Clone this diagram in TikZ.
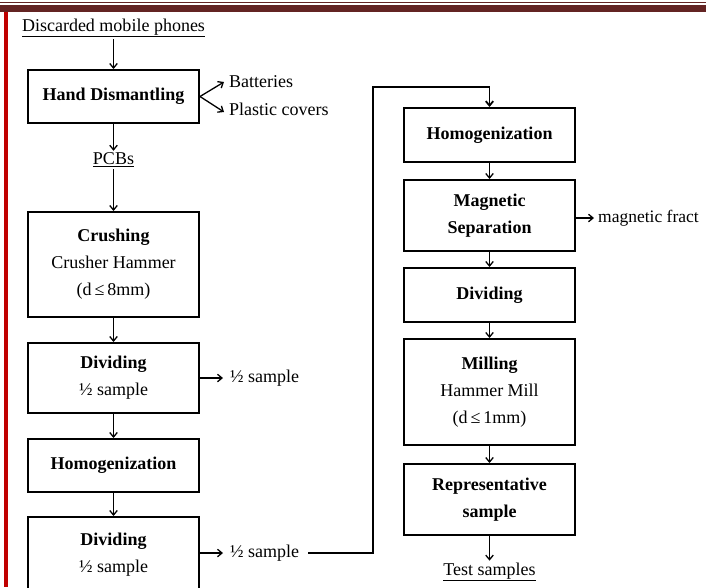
\documentclass[tikz,border=0pt]{standalone}
\usepackage{fontspec}
\setmainfont{Liberation Serif}
\usetikzlibrary{arrows.meta}
\definecolor{hdr}{HTML}{632423}
\definecolor{redl}{HTML}{C00000}
\begin{document}
\begin{tikzpicture}[x=1pt,y=-1pt,
  box/.style={draw, line width=2pt, minimum width=171pt, inner sep=0pt, align=center, font=\fontsize{18}{27}\selectfont},
  txt/.style={inner sep=2pt, font=\fontsize{18}{27}\selectfont},
  side/.style={txt, anchor=west, inner xsep=7pt},
  arr/.style={line width=1.3pt, -{Straight Barb[length=4.5pt,width=7.5pt]}},
  longconn/.style={line width=1.8pt, -{Straight Barb[length=4.5pt,width=7.5pt]}},
]
\useasboundingbox (0,0) rectangle (706,587);
\clip (0,0) rectangle (706,587);
\fill[white] (0,0) rectangle (706,587);
\fill[hdr] (0,1.5) rectangle (706,3);
\fill[hdr] (0,5) rectangle (706,11.5);
\fill[redl] (3.5,11.5) rectangle (7.5,587);

% left column
\node[txt] (disc) at (113.5,28) {\underline{Discarded mobile phones}};
\node[box, minimum height=53pt] (hand) at (113.5,96.5) {\textbf{Hand Dismantling}};
\node[side, inner xsep=5pt] (bat) at (224,82) {Batteries};
\node[side, inner xsep=5pt] (plc) at (224,109) {Plastic covers};
\node[txt] (pcb) at (113.5,160) {\underline{PCBs}};
\node[box, minimum height=105pt] (crush) at (113.5,264.5) {\textbf{Crushing}\\Crusher Hammer\\(d\,≤\,8mm)};
\node[box, minimum height=70pt] (div1) at (113.5,378) {\textbf{Dividing}\\½ sample};
\node[side] (h1) at (223,378) {½ sample};
\node[box, minimum height=53pt] (homo1) at (113.5,465.5) {\textbf{Homogenization}};
\node[box, minimum height=76pt] (div2) at (113.5,555) {\textbf{Dividing}\\½ sample};
\node[side] (h2) at (223,553) {½ sample};

% right column
\node[box, minimum height=54pt] (homo2) at (489.5,135) {\textbf{Homogenization}};
\node[box, minimum height=71pt] (mag) at (489.5,215.5) {\textbf{Magnetic}\\\textbf{Separation}};
\node[side, inner xsep=4pt, font=\fontsize{17.5}{27}\selectfont] (magf) at (594,218) {magnetic fract};
\node[box, minimum height=54pt] (div3) at (489.5,295) {\textbf{Dividing}};
\node[box, minimum height=106pt] (mill) at (489.5,392) {\textbf{Milling}\\Hammer Mill\\(d\,≤\,1mm)};
\node[box, minimum height=71pt] (rep) at (489.5,499.5) {\textbf{Representative}\\\textbf{sample}};
\node[txt] (test) at (489.5,572) {\underline{Test samples}};

\coordinate (turn) at (373,87);

% connectors
\draw[arr] (disc) -- (hand);
\draw[arr] (hand.east) -- (bat.west);
\draw[arr] (hand.east) -- ([yshift=-3pt]plc.west);
\draw[arr] (hand) -- (pcb);
\draw[arr] (pcb) -- (crush);
\draw[arr] (crush) -- (div1);
\draw[arr] (div1.east) -- (h1.west);
\draw[arr] (div1) -- (homo1);
\draw[arr] (homo1) -- (div2);
\draw[arr] (div2.east |- h2.west) -- (h2.west);
\draw[longconn] ([xshift=2pt]h2.east) -| (turn) -| (homo2.north);
\draw[arr] (homo2) -- (mag);
\draw[arr] (mag.east |- magf.west) -- (magf.west);
\draw[arr] (mag) -- (div3);
\draw[arr] (div3) -- (mill);
\draw[arr] (mill) -- (rep);
\draw[arr] (rep) -- (test);
\end{tikzpicture}
\end{document}
